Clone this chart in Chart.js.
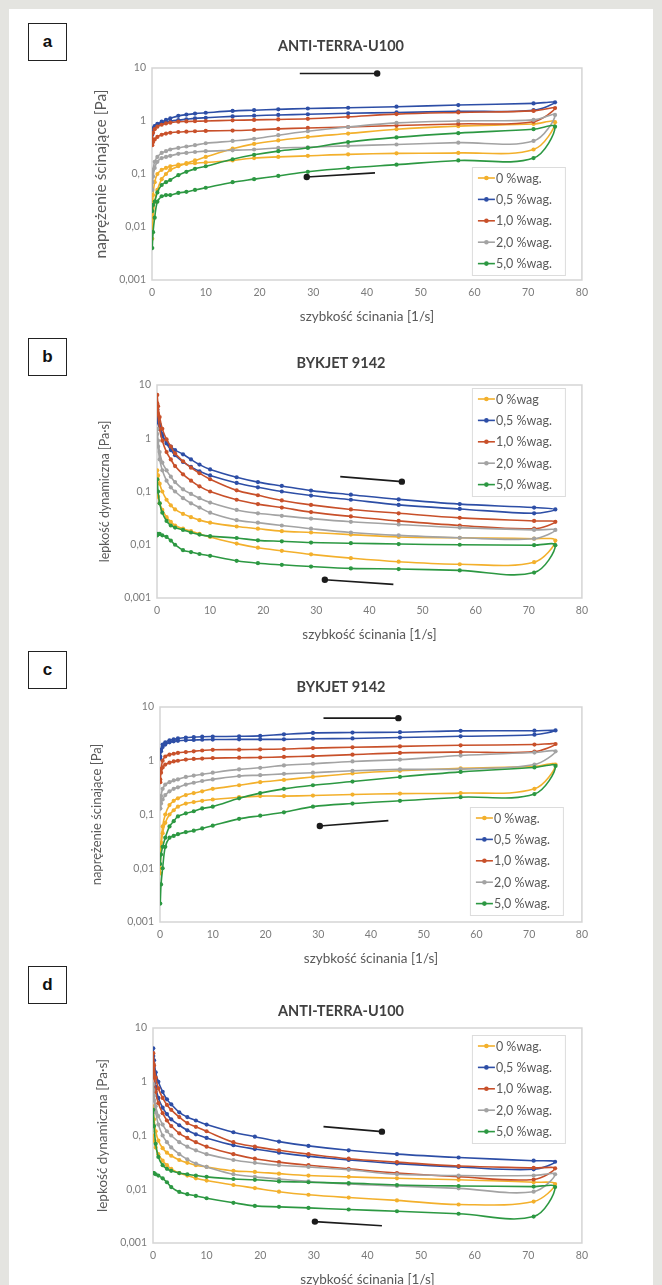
<!DOCTYPE html>
<html>
<head>
<meta charset="utf-8">
<script src="https://cdn.jsdelivr.net/npm/chart.js@4.4.1/dist/chart.umd.min.js"></script>
<style>
  body { margin: 0; width: 662px; height: 1285px; background: #e4e4e0; position: relative; overflow: hidden; font-family: Lato, "Open Sans", sans-serif; }
  #sheet { position: absolute; left: 9px; top: 9px; width: 644px; height: 1290px; background: #fff; }
  .tag { position: absolute; left: 28px; width: 37px; height: 36px; border: 1px solid #222; background: #fff;
         font: bold 17px Arial, "Liberation Sans", sans-serif; text-align: center; line-height: 35px; color: #111; }
  canvas { position: absolute; left: 88px; }
</style>
</head>
<body>
<div id="sheet"></div>
<div class="tag" style="top:23px">a</div>
<div class="tag" style="top:338px">b</div>
<div class="tag" style="top:651px">c</div>
<div class="tag" style="top:966px">d</div>
<canvas id="chartA"></canvas>
<canvas id="chartB"></canvas>
<canvas id="chartC"></canvas>
<canvas id="chartD"></canvas>
<script>
// shear rate points [1/s]: ramp up, then ramp down
const xUp = [0.05, 0.2, 0.5, 1, 1.8, 2.6, 3.4, 4.9, 6.4, 8, 10, 15, 19, 23.5, 29, 36.5, 45.5, 57, 71, 75];
const xDown = [71, 57, 45.5, 36.5, 29, 23.5, 19, 15, 10, 8, 6.4, 4.9, 3.4, 2.6, 1.8, 1, 0.5, 0.2, 0.05];

const seriesNames = ['0 %wag.', '0,5 %wag.', '1,0 %wag.', '2,0 %wag.', '5,0 %wag.'];
const seriesNamesB = ['0 %wag', '0,5 %wag.', '1,0 %wag.', '2,0 %wag.', '5,0 %wag.'];
const yTickValues = [10, 1, 0.1, 0.01, 0.001];
const yTickLabels = ['10', '1', '0,1', '0,01', '0,001'];
const xTitle = 'szybkość ścinania [1/s]';

// a: ANTI-TERRA-U100, naprężenie ścinające [Pa]
const a0Up = [0.006, 0.015, 0.03, 0.05, 0.08, 0.1, 0.12, 0.14, 0.16, 0.18, 0.21, 0.3, 0.37, 0.43, 0.5, 0.58, 0.7, 0.8, 0.88, 0.95];
const a0Down = [0.29, 0.25, 0.245, 0.235, 0.22, 0.21, 0.2, 0.18, 0.165, 0.16, 0.155, 0.15, 0.14, 0.13, 0.12, 0.1, 0.07, 0.04, 0.015];
const a05Up = [0.55, 0.7, 0.8, 0.88, 0.97, 1.05, 1.12, 1.25, 1.32, 1.38, 1.43, 1.55, 1.6, 1.66, 1.72, 1.78, 1.86, 2.0, 2.15, 2.25];
const a05Down = [1.6, 1.52, 1.45, 1.4, 1.34, 1.3, 1.26, 1.22, 1.15, 1.12, 1.08, 1.04, 0.99, 0.95, 0.9, 0.84, 0.78, 0.72, 0.62];
const a10Up = [0.45, 0.6, 0.7, 0.78, 0.85, 0.9, 0.93, 0.97, 0.98, 0.99, 1.0, 1.03, 1.05, 1.07, 1.1, 1.2, 1.35, 1.45, 1.55, 1.75];
const a10Down = [0.97, 0.88, 0.82, 0.77, 0.74, 0.71, 0.68, 0.66, 0.65, 0.64, 0.63, 0.62, 0.6, 0.58, 0.55, 0.5, 0.45, 0.4, 0.35];
const a20Up = [0.07, 0.12, 0.17, 0.21, 0.25, 0.27, 0.29, 0.31, 0.33, 0.35, 0.38, 0.42, 0.46, 0.54, 0.64, 0.77, 0.92, 1.0, 1.05, 1.3];
const a20Down = [0.42, 0.39, 0.36, 0.34, 0.32, 0.31, 0.29, 0.28, 0.27, 0.26, 0.25, 0.24, 0.22, 0.21, 0.2, 0.17, 0.13, 0.09, 0.05];
const a50Up = [0.02, 0.026, 0.03, 0.045, 0.062, 0.07, 0.077, 0.095, 0.11, 0.125, 0.14, 0.19, 0.23, 0.27, 0.31, 0.4, 0.49, 0.59, 0.7, 0.78];
const a50Down = [0.2, 0.18, 0.15, 0.13, 0.11, 0.092, 0.08, 0.07, 0.055, 0.05, 0.046, 0.044, 0.04, 0.04, 0.038, 0.03, 0.015, 0.008, 0.004];

// b: BYKJET 9142, lepkość dynamiczna [Pa·s]
const b0Up = [0.25, 0.2, 0.14, 0.1, 0.07, 0.055, 0.046, 0.038, 0.033, 0.029, 0.026, 0.022, 0.02, 0.018, 0.017, 0.0155, 0.014, 0.0135, 0.013, 0.012];
const b0Down = [0.0047, 0.0043, 0.0048, 0.0056, 0.0066, 0.0077, 0.0088, 0.0105, 0.014, 0.016, 0.018, 0.02, 0.023, 0.027, 0.033, 0.045, 0.06, 0.08, 0.1];
const b05Up = [3.0, 2.0, 1.5, 1.1, 0.85, 0.7, 0.6, 0.5, 0.4, 0.32, 0.26, 0.185, 0.15, 0.127, 0.104, 0.087, 0.071, 0.058, 0.05, 0.046];
const b05Down = [0.039, 0.047, 0.056, 0.07, 0.084, 0.1, 0.12, 0.145, 0.2, 0.24, 0.29, 0.36, 0.48, 0.6, 0.8, 1.2, 1.8, 2.6, 3.5];
const b10Up = [6.5, 4.0, 2.5, 1.5, 0.95, 0.7, 0.52, 0.37, 0.28, 0.22, 0.17, 0.105, 0.085, 0.068, 0.056, 0.046, 0.039, 0.032, 0.028, 0.027];
const b10Down = [0.02, 0.023, 0.028, 0.034, 0.041, 0.05, 0.058, 0.07, 0.1, 0.125, 0.16, 0.21, 0.3, 0.4, 0.55, 0.9, 1.5, 2.8, 4.5];
const b20Up = [1.5, 0.9, 0.55, 0.35, 0.25, 0.19, 0.15, 0.11, 0.09, 0.075, 0.062, 0.045, 0.039, 0.035, 0.031, 0.027, 0.024, 0.021, 0.019, 0.019];
const b20Down = [0.013, 0.0135, 0.015, 0.017, 0.02, 0.023, 0.026, 0.029, 0.04, 0.05, 0.06, 0.075, 0.1, 0.12, 0.16, 0.25, 0.4, 0.7, 1.2];
const b50Up = [0.17, 0.1, 0.06, 0.04, 0.028, 0.023, 0.021, 0.019, 0.017, 0.0155, 0.0145, 0.0134, 0.0121, 0.0116, 0.011, 0.0107, 0.0103, 0.01, 0.0098, 0.0098];
const b50Down = [0.003, 0.0033, 0.0035, 0.0036, 0.0039, 0.0042, 0.0045, 0.005, 0.0062, 0.0067, 0.0073, 0.0079, 0.01, 0.012, 0.014, 0.015, 0.016, 0.016, 0.015];

// c: BYKJET 9142, naprężenie ścinające [Pa]
const c0Up = [0.008, 0.03, 0.06, 0.1, 0.15, 0.18, 0.2, 0.23, 0.25, 0.27, 0.3, 0.35, 0.4, 0.44, 0.5, 0.58, 0.65, 0.72, 0.78, 0.85];
const c0Down = [0.3, 0.25, 0.245, 0.235, 0.225, 0.22, 0.22, 0.21, 0.19, 0.18, 0.17, 0.16, 0.14, 0.12, 0.1, 0.07, 0.045, 0.025, 0.01];
const c05Up = [1.2, 1.6, 2.0, 2.2, 2.4, 2.5, 2.6, 2.7, 2.75, 2.8, 2.82, 2.85, 2.9, 3.1, 3.3, 3.35, 3.4, 3.6, 3.62, 3.66];
const c05Down = [3.05, 2.85, 2.7, 2.6, 2.57, 2.5, 2.5, 2.5, 2.48, 2.46, 2.43, 2.4, 2.35, 2.3, 2.2, 2.0, 1.8, 1.5, 1.1];
const c10Up = [0.4, 0.7, 1.0, 1.2, 1.3, 1.35, 1.4, 1.45, 1.5, 1.55, 1.6, 1.61, 1.63, 1.65, 1.72, 1.78, 1.85, 1.94, 2.0, 2.05];
const c10Down = [1.48, 1.45, 1.4, 1.3, 1.22, 1.18, 1.15, 1.14, 1.12, 1.1, 1.08, 1.05, 1.0, 0.97, 0.92, 0.85, 0.75, 0.6, 0.45];
const c20Up = [0.13, 0.22, 0.3, 0.36, 0.4, 0.43, 0.45, 0.5, 0.53, 0.56, 0.6, 0.69, 0.74, 0.82, 0.88, 0.97, 1.05, 1.25, 1.42, 1.5];
const c20Down = [0.85, 0.7, 0.69, 0.65, 0.6, 0.57, 0.54, 0.52, 0.45, 0.42, 0.39, 0.36, 0.32, 0.3, 0.27, 0.23, 0.19, 0.16, 0.13];
const c50Up = [0.012, 0.018, 0.025, 0.037, 0.06, 0.075, 0.092, 0.105, 0.115, 0.13, 0.14, 0.2, 0.25, 0.3, 0.35, 0.41, 0.5, 0.62, 0.75, 0.8];
const c50Down = [0.24, 0.21, 0.18, 0.16, 0.14, 0.11, 0.095, 0.083, 0.062, 0.055, 0.05, 0.047, 0.043, 0.04, 0.037, 0.025, 0.01, 0.005, 0.0022];

// d: ANTI-TERRA-U100, lepkość dynamiczna [Pa·s]
const d0Up = [0.35, 0.2, 0.12, 0.08, 0.058, 0.048, 0.042, 0.035, 0.031, 0.028, 0.026, 0.022, 0.021, 0.0195, 0.018, 0.017, 0.016, 0.015, 0.0135, 0.0125];
const d0Down = [0.0059, 0.0052, 0.0062, 0.007, 0.0079, 0.009, 0.0105, 0.012, 0.0145, 0.016, 0.018, 0.02, 0.024, 0.028, 0.034, 0.045, 0.06, 0.08, 0.1];
const d05Up = [4.2, 2.5, 1.5, 1.0, 0.65, 0.47, 0.38, 0.27, 0.22, 0.19, 0.16, 0.115, 0.095, 0.077, 0.064, 0.053, 0.045, 0.039, 0.034, 0.0325];
const d05Down = [0.0235, 0.026, 0.03, 0.035, 0.041, 0.048, 0.056, 0.066, 0.09, 0.105, 0.125, 0.155, 0.2, 0.25, 0.33, 0.5, 0.8, 1.5, 3.0];
const d10Up = [3.4, 2.0, 1.2, 0.75, 0.5, 0.37, 0.3, 0.22, 0.17, 0.145, 0.12, 0.075, 0.062, 0.053, 0.045, 0.037, 0.032, 0.027, 0.025, 0.0245];
const d10Down = [0.0152, 0.0171, 0.02, 0.024, 0.028, 0.032, 0.037, 0.045, 0.062, 0.075, 0.09, 0.11, 0.15, 0.19, 0.26, 0.4, 0.65, 1.2, 2.2];
const d20Up = [0.9, 0.55, 0.35, 0.23, 0.16, 0.12, 0.1, 0.075, 0.062, 0.053, 0.045, 0.035, 0.031, 0.028, 0.026, 0.023, 0.019, 0.018, 0.018, 0.019];
const d20Down = [0.009, 0.0104, 0.0115, 0.0125, 0.014, 0.0155, 0.017, 0.019, 0.026, 0.03, 0.036, 0.045, 0.06, 0.075, 0.1, 0.16, 0.27, 0.45, 0.7];
const d50Up = [0.3, 0.15, 0.07, 0.04, 0.028, 0.024, 0.022, 0.02, 0.019, 0.018, 0.017, 0.0155, 0.015, 0.014, 0.0135, 0.013, 0.012, 0.0115, 0.0112, 0.011];
const d50Down = [0.0031, 0.0035, 0.0039, 0.0042, 0.0045, 0.0047, 0.0049, 0.0056, 0.0068, 0.0075, 0.0081, 0.0089, 0.011, 0.0135, 0.016, 0.018, 0.019, 0.02, 0.02];

// direction arrows in data units: [x1, y1, x2, y2], head at (x2, y2)
const aArrows = [[27.5, 7.9, 41.9, 7.9], [41.5, 0.105, 28.8, 0.088]];
const bArrows = [[34.5, 0.19, 46.1, 0.153], [44.5, 0.0018, 31.6, 0.0022]];
const cArrows = [[31, 6.2, 45.2, 6.2], [43.3, 0.077, 30.3, 0.061]];
const dArrows = [[31.8, 0.146, 42.7, 0.118], [42.7, 0.0021, 30.2, 0.0025]];

const colors = ['#F3B02C', '#2D4EA6', '#C8502A', '#A3A3A3', '#2C9842'];

Chart.defaults.font.family = 'Lato, "Open Sans", sans-serif';

function loop(up, down) {
  return xUp.map((x, i) => ({ x: x, y: up[i] }))
    .concat(xDown.map((x, i) => ({ x: x, y: down[i] })));
}

const frame = {
  id: 'frame',
  beforeDatasetsDraw(chart) {
    const { ctx, chartArea: a } = chart;
    ctx.save();
    ctx.strokeStyle = '#d5d5d5';
    ctx.lineWidth = 1.5;
    ctx.strokeRect(a.left, a.top, a.right - a.left, a.bottom - a.top);
    ctx.restore();
  }
};

const arrows = {
  id: 'arrows',
  afterDatasetsDraw(chart, args, opts) {
    const { ctx, scales: { x, y } } = chart;
    ctx.save();
    ctx.strokeStyle = '#1b1b1b';
    ctx.fillStyle = '#1b1b1b';
    ctx.lineWidth = 1.6;
    opts.list.forEach(([x1, y1, x2, y2]) => {
      const px1 = x.getPixelForValue(x1), py1 = y.getPixelForValue(y1);
      const px2 = x.getPixelForValue(x2), py2 = y.getPixelForValue(y2);
      ctx.beginPath();
      ctx.moveTo(px1, py1);
      ctx.lineTo(px2, py2);
      ctx.stroke();
      ctx.beginPath();
      ctx.arc(px2, py2, 3.2, 0, Math.PI * 2);
      ctx.fill();
    });
    ctx.restore();
  }
};

// legend box drawn inside the plot area
const innerLegend = {
  id: 'innerLegend',
  afterDraw(chart, args, opts) {
    const { ctx, chartArea: a } = chart;
    const left = a.right - opts.right - opts.width;
    const top = opts.top != null ? a.top + opts.top : a.bottom - opts.bottom - opts.height;
    ctx.save();
    ctx.fillStyle = '#fff';
    ctx.fillRect(left, top, opts.width, opts.height);
    ctx.strokeStyle = '#dcdcdc';
    ctx.lineWidth = 1;
    ctx.strokeRect(left + 0.5, top + 0.5, opts.width, opts.height);
    ctx.font = '12.5px Lato, "Open Sans", sans-serif';
    ctx.textBaseline = 'middle';
    chart.data.datasets.forEach((ds, i) => {
      const cy = top + 11 + i * 21.4;
      ctx.strokeStyle = ds.borderColor;
      ctx.lineWidth = 1.6;
      ctx.beginPath();
      ctx.moveTo(left + 6, cy);
      ctx.lineTo(left + 23, cy);
      ctx.stroke();
      ctx.fillStyle = ds.borderColor;
      ctx.beginPath();
      ctx.arc(left + 14.5, cy, 2.3, 0, Math.PI * 2);
      ctx.fill();
      ctx.fillStyle = '#595959';
      ctx.fillText(opts.labels[i], left + 24, cy + 0.5);
    });
    ctx.restore();
  }
};

function makeChart(p) {
  const canvas = document.getElementById(p.id);
  const top = p.plotTop - 35;
  const height = p.plotBottom + 45 - top;
  canvas.width = 506;
  canvas.height = height;
  canvas.style.top = top + 'px';
  const yLine = p.yTitleSize * 1.2;
  const tLine = 14.5 * 1.2;
  const datasets = p.series.map((s, i) => ({
    label: p.labels[i],
    data: loop(s[0], s[1]),
    borderColor: colors[i],
    backgroundColor: colors[i],
    borderWidth: 1.6,
    pointRadius: 2.1,
    pointBorderWidth: 0,
    pointBackgroundColor: colors[i],
    showLine: true,
    tension: 0.35,
    fill: false,
    order: 5 - i
  }));
  return new Chart(canvas, {
    type: 'scatter',
    data: { datasets: datasets },
    options: {
      responsive: false,
      animation: false,
      events: [],
      layout: { padding: { left: 12, right: 506 + 88 - 582, top: 0, bottom: 0 } },
      plugins: {
        legend: { display: false },
        tooltip: { enabled: false },
        title: {
          display: true,
          text: p.title,
          color: '#404040',
          font: { size: 14.5, weight: 'bold' },
          padding: { top: 35 - tLine - (p.titleGap - tLine / 2), bottom: p.titleGap - tLine / 2 }
        },
        arrows: { list: p.arrows },
        innerLegend: Object.assign({ labels: p.labels, width: 93, height: 108 }, p.legend)
      },
      scales: {
        x: {
          type: 'linear',
          min: 0,
          max: 80,
          grid: { display: false, drawTicks: false },
          border: { display: false },
          ticks: { stepSize: 10, padding: 6, color: '#7b7b7b', font: { size: 10.5 }, maxRotation: 0 },
          title: { display: true, text: xTitle, color: '#595959', font: { size: 13.5 }, padding: { top: 3, bottom: 0 } },
          afterFit: s => { s.height = 45; }
        },
        y: {
          type: 'logarithmic',
          min: 0.001,
          max: 10,
          grid: { display: false, drawTicks: false },
          border: { display: false },
          afterBuildTicks: s => { s.ticks = yTickValues.map(v => ({ value: v })); },
          ticks: {
            padding: 6,
            color: '#7b7b7b',
            font: { size: 10.5 },
            callback: v => {
              const i = yTickValues.findIndex(t => Math.abs(Math.log10(t) - Math.log10(v)) < 0.01);
              return i >= 0 ? yTickLabels[i] : '';
            }
          },
          title: {
            display: true,
            text: p.yTitle,
            color: '#595959',
            font: { size: p.yTitleSize },
            padding: { top: p.yTitleX - 100 - yLine / 2, bottom: 0 }
          },
          afterFit: s => { s.width = p.plotLeft - 100; }
        }
      }
    },
    plugins: [frame, arrows, innerLegend]
  });
}

makeChart({
  id: 'chartA', title: 'ANTI-TERRA-U100', yTitle: 'naprężenie ścinające [Pa]', yTitleSize: 15.5, yTitleX: 101,
  plotTop: 68, plotBottom: 280, plotLeft: 152, titleGap: 22, labels: seriesNames, arrows: aArrows,
  legend: { right: 17, bottom: 5 },
  series: [[a0Up, a0Down], [a05Up, a05Down], [a10Up, a10Down], [a20Up, a20Down], [a50Up, a50Down]]
});
makeChart({
  id: 'chartB', title: 'BYKJET 9142', yTitle: 'lepkość dynamiczna [Pa·s]', yTitleSize: 12.5, yTitleX: 105,
  plotTop: 385, plotBottom: 598, plotLeft: 157, titleGap: 22, labels: seriesNamesB, arrows: bArrows,
  legend: { right: 17, top: 3 },
  series: [[b0Up, b0Down], [b05Up, b05Down], [b10Up, b10Down], [b20Up, b20Down], [b50Up, b50Down]]
});
makeChart({
  id: 'chartC', title: 'BYKJET 9142', yTitle: 'naprężenie ścinające [Pa]', yTitleSize: 13, yTitleX: 97,
  plotTop: 707, plotBottom: 922, plotLeft: 160, titleGap: 20, labels: seriesNames, arrows: cArrows,
  legend: { right: 19, bottom: 7 },
  series: [[c0Up, c0Down], [c05Up, c05Down], [c10Up, c10Down], [c20Up, c20Down], [c50Up, c50Down]]
});
makeChart({
  id: 'chartD', title: 'ANTI-TERRA-U100', yTitle: 'lepkość dynamiczna [Pa·s]', yTitleSize: 13.5, yTitleX: 103,
  plotTop: 1028, plotBottom: 1243, plotLeft: 153, titleGap: 17, labels: seriesNames, arrows: dArrows,
  legend: { right: 17, top: 7 },
  series: [[d0Up, d0Down], [d05Up, d05Down], [d10Up, d10Down], [d20Up, d20Down], [d50Up, d50Down]]
});
</script>
</body>
</html>
